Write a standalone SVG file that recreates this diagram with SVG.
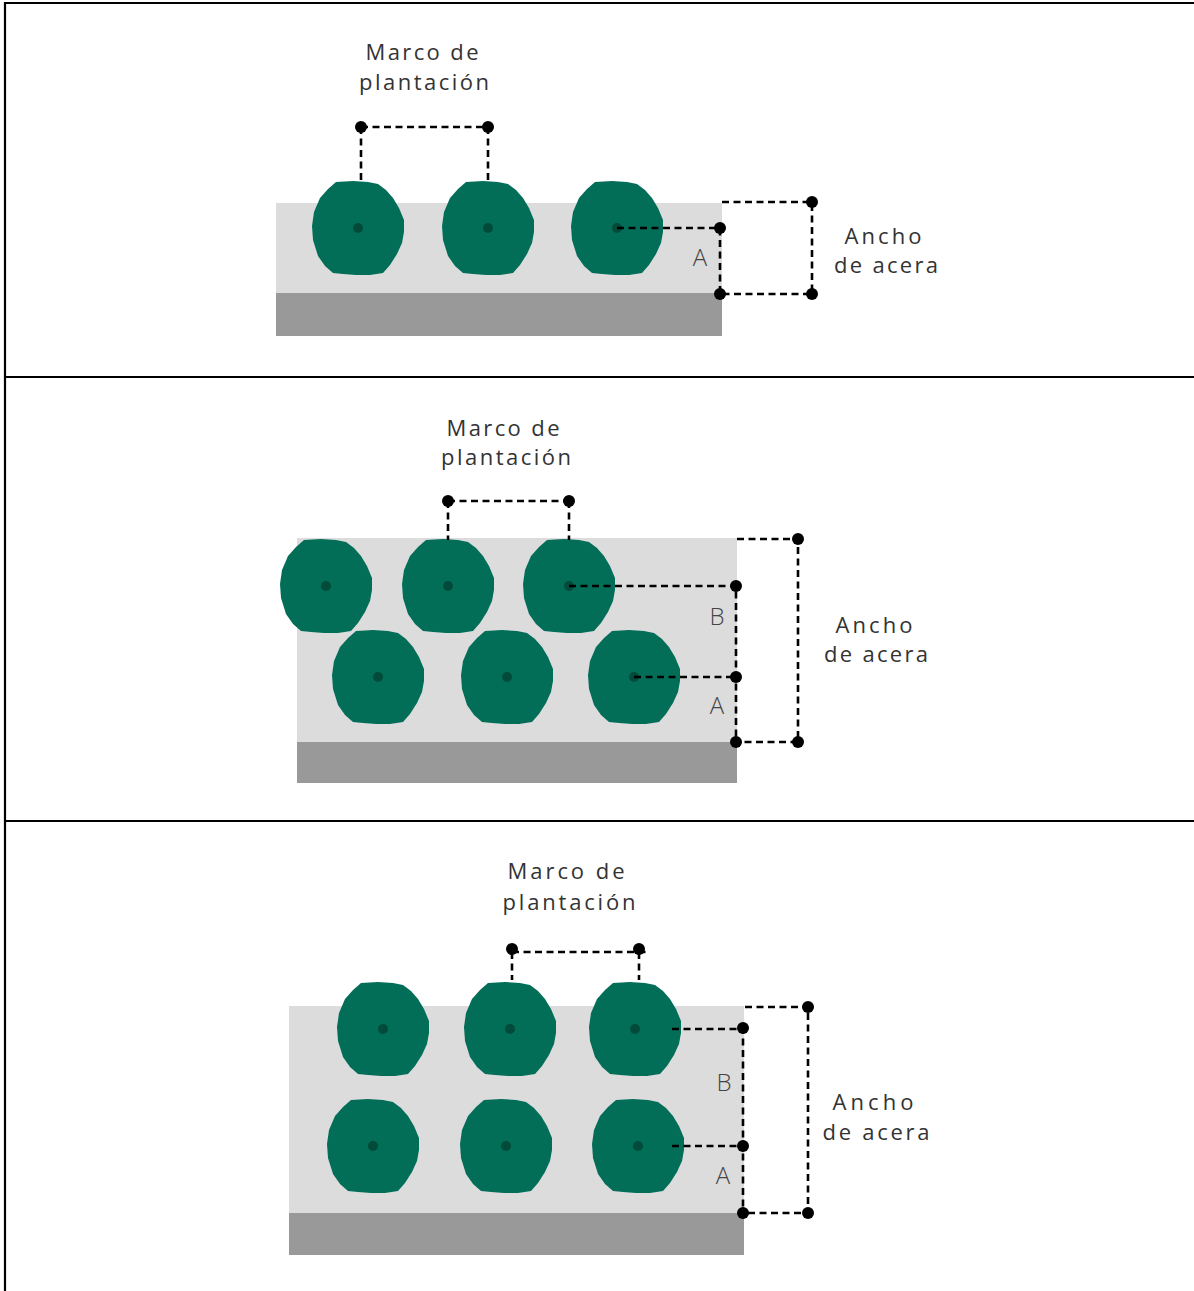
<svg xmlns="http://www.w3.org/2000/svg" xmlns:xlink="http://www.w3.org/1999/xlink" width="1194" height="1291" viewBox="0 0 1194 1291">
<style>
.frame{stroke:#000;stroke-width:2.2;fill:none}
.walk{fill:#dcdcdc}
.curb{fill:#999999}
.tree{fill:#036e58}
.core{fill:#024a3a}
.dash{stroke:#000;stroke-width:2.6;stroke-dasharray:7 4.5;fill:none}
.dot{fill:#000}
.lbl{font-family:"Open Sans","Noto Sans","Liberation Sans",sans-serif;font-size:22px;fill:#333;text-anchor:middle}
.let{font-family:"Open Sans","Noto Sans","Liberation Sans",sans-serif;font-size:24px;fill:#444;text-anchor:middle;font-weight:300}
</style>
<defs>
<g id="treeShape">
<polygon class="tree" points="-22,-46 -5,-47 10,-46 20,-44 28,-38 35,-30 41,-20 46,-8 46,4 44,15 39,26 32,37 25,45 12,47 -2,47 -15,46 -25,45 -33,38 -40,28 -45,12 -46,-2 -44,-16 -38,-30 -30,-39"/>
<circle class="core" r="5"/>
</g>
</defs>
<rect width="1194" height="1291" fill="#fff"/>
<g id="frame">
<line class="frame" x1="5" y1="2" x2="5" y2="1291"/>
<line class="frame" x1="5" y1="3" x2="1194" y2="3"/>
<line class="frame" x1="5" y1="377" x2="1194" y2="377"/>
<line class="frame" x1="5" y1="821" x2="1194" y2="821"/>
</g>

<!-- Panel 1 -->
<g id="panel1-sidewalk">
<rect class="walk" x="276" y="203" width="446" height="90"/>
<rect class="curb" x="276" y="293" width="446" height="43"/>
</g>
<g id="panel1-trees">
<use xlink:href="#treeShape" x="358" y="228"/>
<use xlink:href="#treeShape" x="488" y="228"/>
<use xlink:href="#treeShape" x="617" y="228"/>
</g>
<g id="panel1-connectors">
<path class="dash" d="M361,127 H488 M361,127 V180 M488,127 V180"/>
<path class="dash" d="M617,228 H720 V294 M722,202 H812 V294 H720"/>
<circle class="dot" cx="361" cy="127" r="6"/>
<circle class="dot" cx="488" cy="127" r="6"/>
<circle class="dot" cx="720" cy="228" r="6"/>
<circle class="dot" cx="720" cy="294" r="6"/>
<circle class="dot" cx="812" cy="202" r="6"/>
<circle class="dot" cx="812" cy="294" r="6"/>
</g>
<g id="panel1-labels">
<text class="lbl" x="422" y="60" textLength="113" lengthAdjust="spacing">Marco de</text>
<text class="lbl" x="424" y="90" textLength="130" lengthAdjust="spacing">plantación</text>
<text class="lbl" x="883" y="244" textLength="77" lengthAdjust="spacing">Ancho</text>
<text class="lbl" x="886" y="273" textLength="104" lengthAdjust="spacing">de acera</text>
<text class="let" x="700" y="266">A</text>
</g>

<!-- Panel 2 -->
<g id="panel2-sidewalk">
<rect class="walk" x="297" y="538" width="440" height="204"/>
<rect class="curb" x="297" y="742" width="440" height="41"/>
</g>
<g id="panel2-trees">
<use xlink:href="#treeShape" x="326" y="586"/>
<use xlink:href="#treeShape" x="448" y="586"/>
<use xlink:href="#treeShape" x="569" y="586"/>
<use xlink:href="#treeShape" x="378" y="677"/>
<use xlink:href="#treeShape" x="507" y="677"/>
<use xlink:href="#treeShape" x="634" y="677"/>
</g>
<g id="panel2-connectors">
<path class="dash" d="M448,501 H569 M448,501 V540 M569,501 V540"/>
<path class="dash" d="M569,586 H736 V742 M634,677 H736 M737,539 H798 V742 H736"/>
<circle class="dot" cx="448" cy="501" r="6"/>
<circle class="dot" cx="569" cy="501" r="6"/>
<circle class="dot" cx="736" cy="586" r="6"/>
<circle class="dot" cx="736" cy="677" r="6"/>
<circle class="dot" cx="736" cy="742" r="6"/>
<circle class="dot" cx="798" cy="539" r="6"/>
<circle class="dot" cx="798" cy="742" r="6"/>
</g>
<g id="panel2-labels">
<text class="lbl" x="503" y="436" textLength="113" lengthAdjust="spacing">Marco de</text>
<text class="lbl" x="506" y="465" textLength="130" lengthAdjust="spacing">plantación</text>
<text class="lbl" x="874" y="633" textLength="77" lengthAdjust="spacing">Ancho</text>
<text class="lbl" x="876" y="662" textLength="104" lengthAdjust="spacing">de acera</text>
<text class="let" x="717" y="625">B</text>
<text class="let" x="717" y="714">A</text>
</g>

<!-- Panel 3 -->
<g id="panel3-sidewalk">
<rect class="walk" x="289" y="1006" width="455" height="207"/>
<rect class="curb" x="289" y="1213" width="455" height="42"/>
</g>
<g id="panel3-trees">
<use xlink:href="#treeShape" x="383" y="1029"/>
<use xlink:href="#treeShape" x="510" y="1029"/>
<use xlink:href="#treeShape" x="635" y="1029"/>
<use xlink:href="#treeShape" x="373" y="1146"/>
<use xlink:href="#treeShape" x="506" y="1146"/>
<use xlink:href="#treeShape" x="638" y="1146"/>
</g>
<g id="panel3-connectors">
<path class="dash" d="M512,952 H650 M512,952 V980 M639,952 V980"/>
<path class="dash" d="M672,1029 H743 V1213 M672,1146 H743 M745,1007 H808 V1213 H743"/>
<circle class="dot" cx="512" cy="949" r="6"/>
<circle class="dot" cx="639" cy="949" r="6"/>
<circle class="dot" cx="743" cy="1028" r="6"/>
<circle class="dot" cx="743" cy="1146" r="6"/>
<circle class="dot" cx="743" cy="1213" r="6"/>
<circle class="dot" cx="808" cy="1007" r="6"/>
<circle class="dot" cx="808" cy="1213" r="6"/>
</g>
<g id="panel3-labels">
<text class="lbl" x="566" y="879" textLength="117" lengthAdjust="spacing">Marco de</text>
<text class="lbl" x="569" y="910" textLength="133" lengthAdjust="spacing">plantación</text>
<text class="lbl" x="873" y="1110" textLength="81" lengthAdjust="spacing">Ancho</text>
<text class="lbl" x="876" y="1140" textLength="107" lengthAdjust="spacing">de acera</text>
<text class="let" x="724" y="1091">B</text>
<text class="let" x="723" y="1184">A</text>
</g>
</svg>
